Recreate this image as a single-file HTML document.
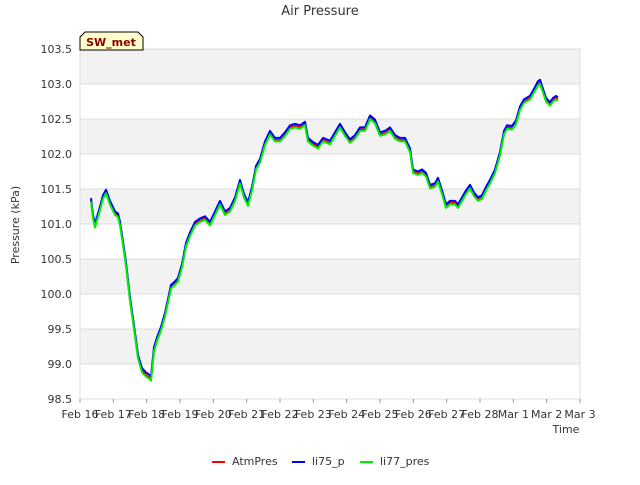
<!DOCTYPE html>
<html><head><meta charset="utf-8"><style>
body{margin:0;background:#fff;font-family:"Liberation Sans",sans-serif}
svg text{font-family:"DejaVu Sans","Liberation Sans",sans-serif;fill:#333}
</style></head><body>
<svg id="chart" width="640" height="480" xmlns="http://www.w3.org/2000/svg">
<text x="320" y="15" text-anchor="middle" font-size="13">Air Pressure</text>
<g id="bands"></g>
<rect x="80" y="49" width="500" height="350" fill="none" stroke="#ddd"/>
<g id="axes"></g>
<g id="series"></g>
<g>
<path d="M80,50 L80,37 L85,32 L138,32 L143,37 L143,50 Z" fill="#ffffcc" stroke="#000"/>
<text x="111" y="46" text-anchor="middle" font-size="11" font-weight="bold" style="fill:#8b0000">SW_met</text>
</g>
<text x="19" y="225" text-anchor="middle" font-size="11" transform="rotate(-90 19 225)">Pressure (kPa)</text>
<text x="566" y="433" text-anchor="middle" font-size="11">Time</text>
<g>
<g><line x1="212" y1="462" x2="225" y2="462" stroke="#ff0000" stroke-width="2"/><text x="232" y="465" font-size="11">AtmPres</text></g>
<g><line x1="292" y1="462" x2="305" y2="462" stroke="#0000ff" stroke-width="2"/><text x="312" y="465" font-size="11">li75_p</text></g>
<g><line x1="360" y1="462" x2="373" y2="462" stroke="#00ee00" stroke-width="2"/><text x="380" y="465" font-size="11">li77_pres</text></g>
</g>
</svg>
<script>
const days=[0.33,0.39,0.45,0.54,0.6,0.69,0.78,0.9,1.05,1.14,1.2,1.29,1.38,1.5,1.62,1.74,1.86,1.98,2.1,2.13,2.22,2.31,2.43,2.55,2.64,2.73,2.85,2.94,3.06,3.18,3.3,3.45,3.6,3.75,3.9,4.05,4.2,4.35,4.5,4.65,4.8,4.92,5.04,5.16,5.28,5.4,5.55,5.7,5.85,6.0,6.15,6.3,6.45,6.6,6.75,6.84,6.99,7.14,7.29,7.5,7.65,7.8,7.95,8.1,8.25,8.4,8.55,8.7,8.85,9.0,9.15,9.3,9.45,9.6,9.75,9.9,9.99,10.14,10.26,10.38,10.5,10.65,10.74,10.86,10.98,11.1,11.25,11.34,11.46,11.58,11.7,11.82,11.94,12.06,12.18,12.3,12.45,12.6,12.72,12.81,12.96,13.08,13.2,13.32,13.5,13.62,13.74,13.8,13.89,13.98,14.1,14.19,14.28,14.34];
const atmPres=[101.34,101.1,100.97,101.12,101.22,101.38,101.46,101.3,101.15,101.12,101.0,100.72,100.42,99.92,99.52,99.1,98.9,98.84,98.8,98.78,99.2,99.35,99.5,99.7,99.9,100.1,100.15,100.2,100.4,100.7,100.85,101.0,101.05,101.08,101.0,101.15,101.3,101.15,101.2,101.35,101.6,101.4,101.28,101.5,101.8,101.9,102.15,102.3,102.2,102.2,102.28,102.38,102.4,102.38,102.43,102.2,102.14,102.1,102.2,102.16,102.28,102.4,102.28,102.18,102.24,102.35,102.35,102.52,102.46,102.28,102.3,102.35,102.24,102.2,102.2,102.05,101.75,101.72,101.75,101.7,101.53,101.55,101.63,101.45,101.25,101.3,101.3,101.25,101.35,101.45,101.53,101.42,101.35,101.38,101.5,101.6,101.75,102.0,102.3,102.38,102.37,102.45,102.65,102.75,102.8,102.9,103.0,103.02,102.9,102.77,102.71,102.77,102.8,102.78];
const li75P=[101.37,101.13,101.0,101.15,101.25,101.41,101.49,101.33,101.18,101.15,101.03,100.75,100.45,99.95,99.55,99.13,98.94,98.88,98.84,98.82,99.24,99.38,99.53,99.73,99.93,100.13,100.18,100.23,100.43,100.73,100.88,101.03,101.08,101.11,101.03,101.18,101.33,101.18,101.23,101.38,101.63,101.43,101.31,101.53,101.83,101.93,102.18,102.33,102.23,102.23,102.31,102.41,102.43,102.41,102.46,102.23,102.17,102.13,102.23,102.19,102.31,102.43,102.31,102.21,102.27,102.38,102.38,102.55,102.49,102.31,102.33,102.38,102.27,102.23,102.23,102.08,101.78,101.75,101.78,101.73,101.56,101.58,101.66,101.48,101.28,101.33,101.33,101.28,101.38,101.48,101.56,101.45,101.38,101.41,101.53,101.63,101.78,102.03,102.33,102.41,102.4,102.48,102.68,102.78,102.83,102.93,103.04,103.06,102.93,102.8,102.74,102.8,102.83,102.81];
const li77Pres=[101.32,101.08,100.95,101.1,101.2,101.36,101.44,101.28,101.13,101.1,100.98,100.7,100.4,99.9,99.5,99.08,98.88,98.82,98.78,98.76,99.18,99.33,99.48,99.68,99.88,100.08,100.13,100.18,100.38,100.68,100.83,100.98,101.03,101.06,100.98,101.13,101.28,101.13,101.18,101.33,101.58,101.38,101.26,101.48,101.78,101.88,102.13,102.28,102.18,102.18,102.26,102.36,102.38,102.36,102.41,102.18,102.12,102.08,102.18,102.14,102.26,102.38,102.26,102.16,102.22,102.33,102.33,102.5,102.44,102.26,102.28,102.33,102.22,102.18,102.18,102.03,101.73,101.7,101.73,101.68,101.51,101.53,101.61,101.43,101.23,101.28,101.28,101.23,101.33,101.43,101.51,101.4,101.33,101.36,101.48,101.58,101.73,101.98,102.28,102.36,102.35,102.43,102.63,102.73,102.78,102.88,102.98,103.0,102.88,102.75,102.69,102.75,102.78,102.76];
const yTicks=[98.5,99.0,99.5,100.0,100.5,101.0,101.5,102.0,102.5,103.0,103.5];
const xTickLabels=["Feb 16","Feb 17","Feb 18","Feb 19","Feb 20","Feb 21","Feb 22","Feb 23","Feb 24","Feb 25","Feb 26","Feb 27","Feb 28","Mar 1","Mar 2","Mar 3"];

const NS="http://www.w3.org/2000/svg";
const X0=80,X1=580,Y0=399,Y1=49,YMIN=98.5,YMAX=103.5,DMAX=15;
const xs=d=>X0+(d/DMAX)*(X1-X0);
const ys=v=>Y0-(v-YMIN)/(YMAX-YMIN)*(Y0-Y1);
function mk(tag,attrs,parent){const e=document.createElementNS(NS,tag);for(const k in attrs)e.setAttribute(k,attrs[k]);parent.appendChild(e);return e;}
const bands=document.getElementById('bands'),axes=document.getElementById('axes'),ser=document.getElementById('series');
for(let i=0;i<yTicks.length-1;i++){
  if(i%2===1){const r=mk('rect',{x:X0,y:ys(yTicks[i+1]),width:X1-X0,height:ys(yTicks[i])-ys(yTicks[i+1]),fill:'#f2f2f2'},bands);
  
  }
}
yTicks.forEach(v=>{
  const l=mk('line',{x1:X0,x2:X1,y1:ys(v),y2:ys(v),stroke:'#ddd'},axes);
  
  
  const t=mk('text',{x:72,y:ys(v)+4,'text-anchor':'end','font-size':11},axes);
  t.textContent=v.toFixed(1);
  
  
});
xTickLabels.forEach((s,i)=>{
  const tk=mk('line',{x1:xs(i),x2:xs(i),y1:Y0,y2:Y0+4,stroke:'#999'},axes);
  
  
  const t=mk('text',{x:xs(i),y:418,'text-anchor':'middle','font-size':11},axes);
  t.textContent=s;
  
  
});
function line(vals,color,name){
  const p=mk('polyline',{points:vals.map((v,i)=>xs(days[i]).toFixed(1)+','+ys(v).toFixed(1)).join(' '),fill:'none',stroke:color,'stroke-width':2,'stroke-linejoin':'round'},ser);
  
  
}
line(atmPres,'#ff0000','atmpres-line');
line(li75P,'#0000ff','li75-p-line');
line(li77Pres,'#00ee00','li77-pres-line');
</script>
</body></html>
